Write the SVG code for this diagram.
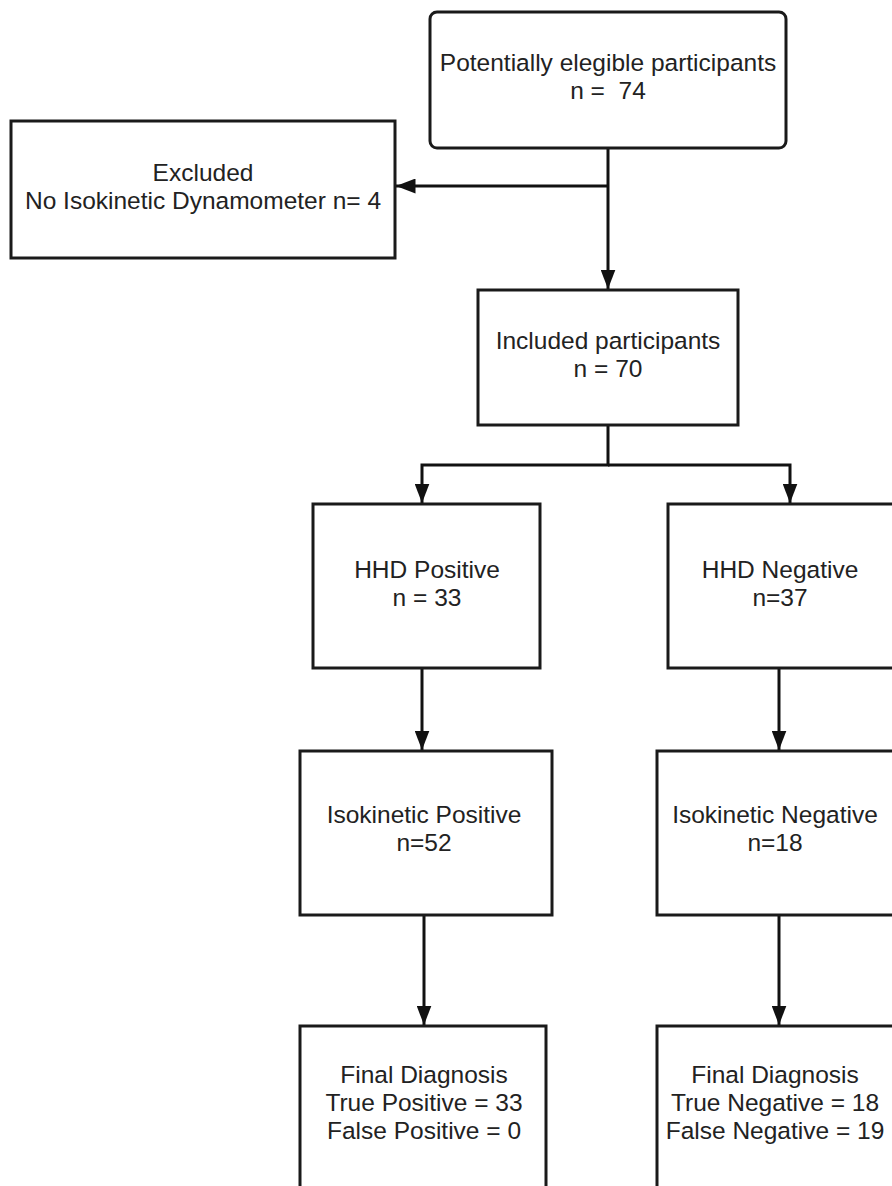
<svg xmlns="http://www.w3.org/2000/svg" width="892" height="1186" viewBox="0 0 892 1186">
<style>
.box{fill:#fff;stroke:#1a1a1a;stroke-width:3}
.t{font-family:"Liberation Sans",Arial,sans-serif;font-size:24.5px;fill:#222;text-anchor:middle}
.c{fill:none;stroke:#111;stroke-width:3}
</style>
<defs>
<marker id="ah" viewBox="0 0 10 10" refX="10" refY="5" markerWidth="6.5" markerHeight="5" markerUnits="strokeWidth" orient="auto" preserveAspectRatio="none">
<path d="M0,0 L10,5 L0,10 z" fill="#111"/>
</marker>
</defs>
<rect width="892" height="1186" fill="#fff"/>
<g id="connectors">
<path class="c" d="M608,148 V289" marker-end="url(#ah)"/>
<path class="c" d="M608,186 H396" marker-end="url(#ah)"/>
<path class="c" d="M608,425 V465 H422 V503" marker-end="url(#ah)"/>
<path class="c" d="M608,465 H790 V503" marker-end="url(#ah)"/>
<path class="c" d="M422,668 V750" marker-end="url(#ah)"/>
<path class="c" d="M779,668 V750" marker-end="url(#ah)"/>
<path class="c" d="M424,915 V1025" marker-end="url(#ah)"/>
<path class="c" d="M779,915 V1025" marker-end="url(#ah)"/>
</g>
<g id="potential">
<rect class="box" x="430" y="12" width="356" height="136" rx="7"/>
<text class="t" x="608" y="71">Potentially elegible participants</text>
<text class="t" x="608" y="99">n =&#160; 74</text>
</g>
<g id="excluded">
<rect class="box" x="11" y="121" width="384" height="137"/>
<text class="t" x="203" y="181">Excluded</text>
<text class="t" x="203" y="209">No Isokinetic Dynamometer n= 4</text>
</g>
<g id="included">
<rect class="box" x="478" y="290" width="260" height="135"/>
<text class="t" x="608" y="349">Included participants</text>
<text class="t" x="608" y="377">n = 70</text>
</g>
<g id="hhd-pos">
<rect class="box" x="313" y="504" width="227" height="164"/>
<text class="t" x="427" y="578">HHD Positive</text>
<text class="t" x="427" y="606">n = 33</text>
</g>
<g id="hhd-neg">
<rect class="box" x="668" y="504" width="226" height="164"/>
<text class="t" x="780" y="578">HHD Negative</text>
<text class="t" x="780" y="606">n=37</text>
</g>
<g id="iso-pos">
<rect class="box" x="300" y="751" width="252" height="164"/>
<text class="t" x="424" y="823">Isokinetic Positive</text>
<text class="t" x="424" y="851">n=52</text>
</g>
<g id="iso-neg">
<rect class="box" x="657" y="751" width="237" height="164"/>
<text class="t" x="775" y="823">Isokinetic Negative</text>
<text class="t" x="775" y="851">n=18</text>
</g>
<g id="final-pos">
<rect class="box" x="300" y="1026" width="246" height="170"/>
<text class="t" x="424" y="1083">Final Diagnosis</text>
<text class="t" x="424" y="1111">True Positive = 33</text>
<text class="t" x="424" y="1139">False Positive = 0</text>
</g>
<g id="final-neg">
<rect class="box" x="657" y="1026" width="237" height="170"/>
<text class="t" x="775" y="1083">Final Diagnosis</text>
<text class="t" x="775" y="1111">True Negative = 18</text>
<text class="t" x="775" y="1139">False Negative = 19</text>
</g>
</svg>
